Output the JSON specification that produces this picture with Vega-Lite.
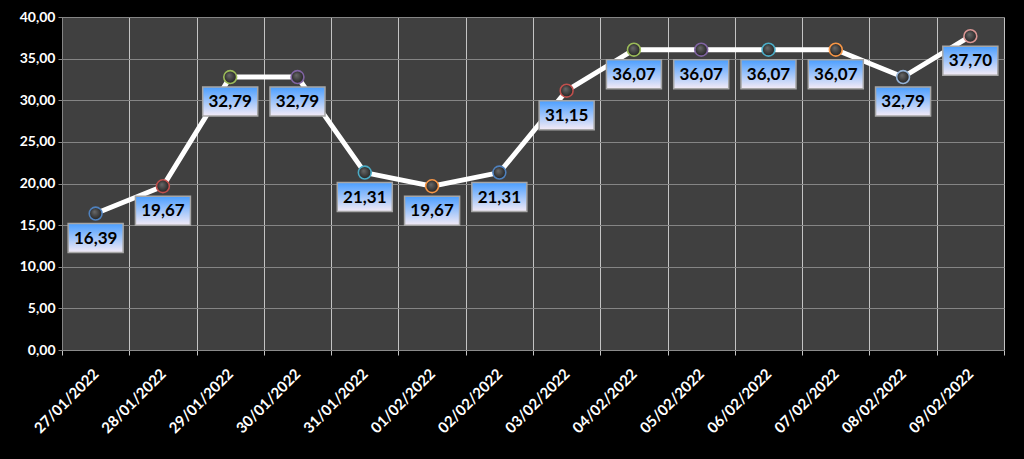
{
  "$schema": "https://vega.github.io/schema/vega-lite/v6.json",
  "autosize": "none",
  "width": 942,
  "height": 333,
  "padding": {"left": 62, "top": 17, "right": 20, "bottom": 109},
  "background": "#000000",
  "config": {
    "locale": {"number": {"decimal": ",", "thousands": ".", "grouping": [3], "currency": ["", " €"]}},
    "view": {"fill": "#404040", "stroke": null},
    "font": "Lato"
  },
  "data": {
    "values": [
      {"date": "27/01/2022", "value": 16.39},
      {"date": "28/01/2022", "value": 19.67},
      {"date": "29/01/2022", "value": 32.79},
      {"date": "30/01/2022", "value": 32.79},
      {"date": "31/01/2022", "value": 21.31},
      {"date": "01/02/2022", "value": 19.67},
      {"date": "02/02/2022", "value": 21.31},
      {"date": "03/02/2022", "value": 31.15},
      {"date": "04/02/2022", "value": 36.07},
      {"date": "05/02/2022", "value": 36.07},
      {"date": "06/02/2022", "value": 36.07},
      {"date": "07/02/2022", "value": 36.07},
      {"date": "08/02/2022", "value": 32.79},
      {"date": "09/02/2022", "value": 37.70}
    ]
  },
  "encoding": {
    "x": {
      "field": "date", "type": "ordinal", "sort": null,
      "scale": {"type": "band", "paddingInner": 0, "paddingOuter": 0},
      "axis": {
        "title": null, "labelAngle": -45, "labelAlign": "right", "labelBaseline": "middle",
        "labelColor": "#ffffff", "labelFont": "Lato", "labelFontSize": 15, "labelFontWeight": "bold",
        "labelPadding": 16,
        "tickBand": "extent", "grid": true, "gridColor": "#c4c4c4", "gridWidth": 1,
        "domainColor": "#8a8a8a", "tickColor": "#c4c4c4", "tickSize": 5
      }
    },
    "y": {
      "field": "value", "type": "quantitative",
      "scale": {"domain": [0, 40], "nice": false, "zero": true},
      "axis": {
        "title": null, "values": [0, 5, 10, 15, 20, 25, 30, 35, 40], "format": ".2f",
        "labelColor": "#ffffff", "labelFont": "Lato", "labelFontSize": 14, "labelFontWeight": "bold",
        "labelPadding": 3, "gridColor": "#858585", "gridWidth": 1,
        "domainColor": "#858585", "tickColor": "#858585", "tickSize": 4
      }
    }
  },
  "layer": [
    {
      "mark": {"type": "line", "color": "#ffffff", "strokeWidth": 5}
    },
    {
      "mark": {
        "type": "point", "filled": false, "shape": "circle", "size": 165, "strokeWidth": 1.6, "opacity": 1,
        "fill": {"gradient": "radial", "x1": 0.4, "y1": 0.35, "r1": 0, "x2": 0.5, "y2": 0.5, "r2": 0.55,
          "stops": [{"offset": 0, "color": "#6a6a6a"}, {"offset": 1, "color": "#1e1e1e"}]}
      },
      "encoding": {
        "stroke": {
          "field": "date", "type": "ordinal", "sort": null, "legend": null,
          "scale": {"range": ["#4f81bd", "#c0504d", "#9bbb59", "#8064a2", "#4bacc6", "#f79646", "#4f81bd", "#c0504d", "#9bbb59", "#8064a2", "#4bacc6", "#f79646", "#95b3d7", "#d99694"]}
        }
      }
    },
    {
      "mark": {
        "type": "point", "filled": true, "opacity": 1, "size": 3600,
        "shape": "M-0.917,0.333H0.917V1.3H-0.917Z",
        "stroke": "#a6a6a6", "strokeWidth": 1.5,
        "fill": {"gradient": "linear", "x1": 0, "y1": 0, "x2": 0, "y2": 1,
          "stops": [{"offset": 0, "color": "#4a9eff"}, {"offset": 1, "color": "#f4ebf6"}]}
      }
    },
    {
      "mark": {"type": "text", "dy": 25, "baseline": "middle", "align": "center", "font": "Lato", "fontSize": 17, "fontWeight": "bold", "color": "#000000"},
      "encoding": {"text": {"field": "value", "type": "quantitative", "format": ".2f"}}
    }
  ]
}
